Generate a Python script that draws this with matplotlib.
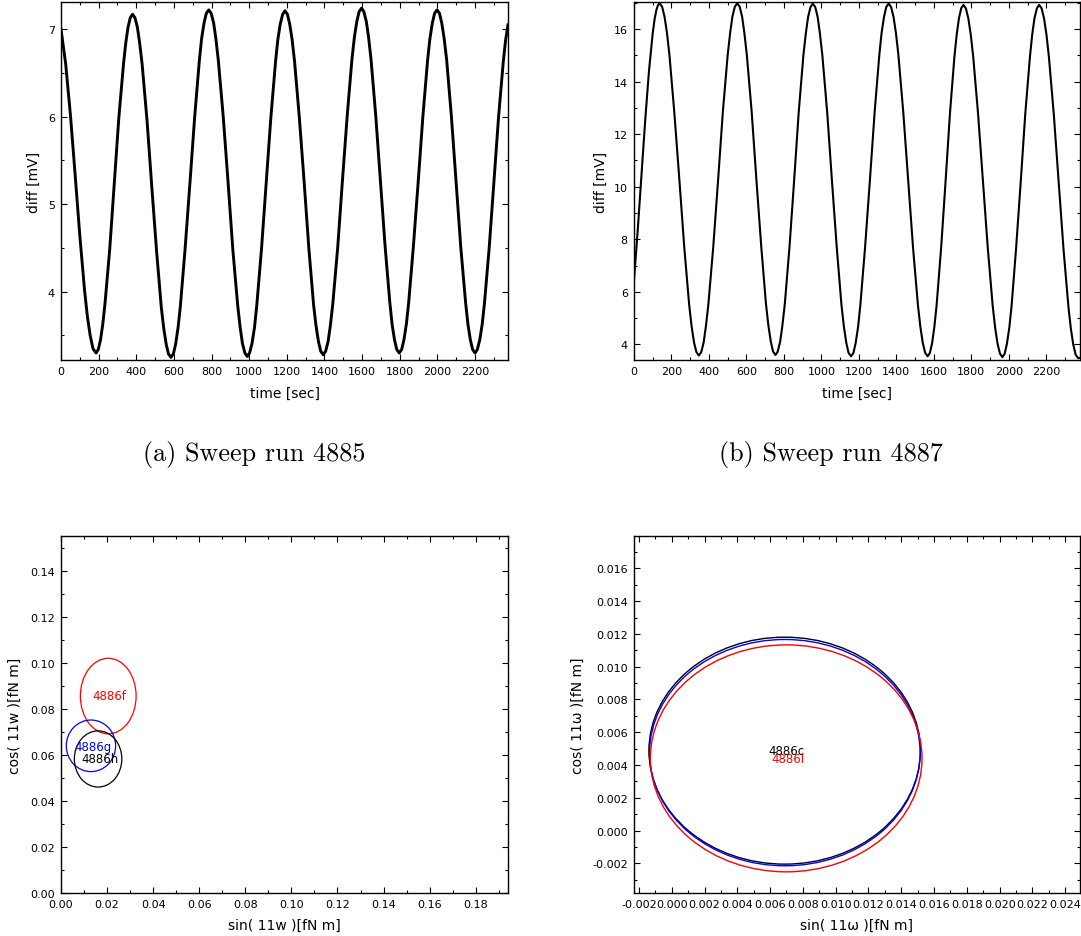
import matplotlib
matplotlib.use('Agg')
from matplotlib import pyplot as plt
from matplotlib.patches import Ellipse
from matplotlib.ticker import MultipleLocator

plt.rcParams['font.family'] = ['DejaVu Sans']
plt.rcParams['axes.unicode_minus'] = False

# (a) sweep run 4885
time_4885 = [0, 25, 50, 75, 100, 125, 140, 155, 170,
             186, 198, 210, 222, 234, 259, 283, 307, 332, 344, 356, 368,
             380, 393, 406, 418, 431, 457, 482, 508, 533, 546, 559, 571,
             584, 597, 609, 622, 634, 659, 685, 710, 735, 747, 760, 772,
             785, 798, 811, 823, 836, 862, 888, 913, 939, 952, 964, 977,
             990, 1002, 1015, 1028, 1040, 1065, 1090, 1115, 1140, 1152, 1165, 1178,
             1190, 1203, 1215, 1228, 1241, 1266, 1292, 1317, 1342, 1355, 1368, 1380,
             1393, 1406, 1419, 1431, 1444, 1470, 1495, 1521, 1546, 1559, 1572, 1584,
             1597, 1609, 1622, 1634, 1647, 1672, 1697, 1722, 1747, 1759, 1772, 1784,
             1797, 1810, 1822, 1835, 1847, 1872, 1898, 1923, 1948, 1960, 1973, 1985,
             1998, 2011, 2023, 2036, 2049, 2074, 2099, 2124, 2150, 2162, 2175, 2187,
             2200, 2212, 2225, 2238, 2250, 2275, 2300, 2325, 2350, 2362, 2375]
diff_4885 = [7.00, 6.60, 6.02, 5.34, 4.64, 4.02, 3.72, 3.50, 3.35,
             3.30, 3.34, 3.45, 3.63, 3.87, 4.49, 5.24, 5.98, 6.60, 6.84, 7.02, 7.13,
             7.17, 7.13, 7.02, 6.84, 6.60, 5.96, 5.21, 4.46, 3.82, 3.58, 3.40, 3.29,
             3.25, 3.29, 3.40, 3.59, 3.83, 4.48, 5.24, 5.99, 6.64, 6.89, 7.07, 7.18,
             7.22, 7.18, 7.07, 6.89, 6.64, 6.00, 5.24, 4.48, 3.84, 3.59, 3.41, 3.30,
             3.26, 3.30, 3.41, 3.59, 3.84, 4.48, 5.24, 5.99, 6.63, 6.88, 7.06, 7.17,
             7.21, 7.17, 7.06, 6.88, 6.63, 6.00, 5.25, 4.49, 3.85, 3.61, 3.43, 3.32,
             3.28, 3.32, 3.43, 3.61, 3.86, 4.50, 5.26, 6.02, 6.66, 6.91, 7.09, 7.20,
             7.24, 7.20, 7.09, 6.91, 6.66, 6.02, 5.27, 4.52, 3.88, 3.63, 3.45, 3.34,
             3.30, 3.34, 3.45, 3.63, 3.87, 4.51, 5.26, 6.01, 6.65, 6.89, 7.07, 7.18,
             7.22, 7.18, 7.07, 6.89, 6.65, 6.01, 5.26, 4.51, 3.87, 3.63, 3.45, 3.34,
             3.30, 3.34, 3.45, 3.63, 3.87, 4.50, 5.25, 6.00, 6.63, 6.87, 7.05]

# (b) sweep run 4887
time_4887 = [0, 20, 40, 60, 80, 100, 110, 120, 128,
             137, 150, 163, 176, 189, 215, 242, 268, 294, 307, 320, 333,
             346, 359, 372, 384, 397, 423, 449, 474, 500, 513, 525, 538,
             551, 564, 577, 589, 602, 628, 653, 679, 704, 717, 730, 742,
             755, 767, 780, 792, 805, 830, 855, 879, 904, 917, 929, 942,
             954, 967, 980, 992, 1005, 1031, 1056, 1082, 1107, 1120, 1133, 1145,
             1158, 1171, 1183, 1196, 1208, 1233, 1259, 1284, 1309, 1321, 1334, 1346,
             1359, 1372, 1385, 1398, 1411, 1437, 1463, 1489, 1515, 1528, 1541, 1554,
             1567, 1579, 1591, 1603, 1615, 1639, 1663, 1686, 1710, 1722, 1734, 1746,
             1758, 1771, 1784, 1797, 1810, 1836, 1862, 1888, 1914, 1927, 1940, 1953,
             1966, 1978, 1990, 2003, 2015, 2039, 2064, 2088, 2113, 2125, 2137, 2150,
             2162, 2175, 2188, 2201, 2214, 2240, 2266, 2292, 2318, 2331, 2344, 2357,
             2370, 2380]
diff_4887 = [6.45, 8.36, 10.46, 12.55, 14.41, 15.85, 16.38, 16.74, 16.91,
             16.98, 16.85, 16.47, 15.85, 15.02, 12.84, 10.28, 7.72, 5.54, 4.71, 4.09, 3.71,
             3.58, 3.71, 4.09, 4.71, 5.54, 7.72, 10.28, 12.84, 15.02, 15.85, 16.47, 16.85,
             16.98, 16.85, 16.47, 15.85, 15.02, 12.85, 10.29, 7.73, 5.56, 4.73, 4.11, 3.73,
             3.60, 3.73, 4.11, 4.73, 5.56, 7.73, 10.29, 12.84, 15.01, 15.84, 16.46, 16.84,
             16.97, 16.84, 16.46, 15.84, 15.01, 12.83, 10.26, 7.69, 5.51, 4.68, 4.06, 3.68,
             3.55, 3.68, 4.06, 4.68, 5.51, 7.69, 10.26, 12.83, 15.01, 15.84, 16.46, 16.84,
             16.97, 16.84, 16.46, 15.84, 15.01, 12.83, 10.26, 7.69, 5.51, 4.68, 4.06, 3.68,
             3.55, 3.68, 4.06, 4.68, 5.51, 7.68, 10.24, 12.79, 14.96, 15.79, 16.41, 16.79,
             16.92, 16.79, 16.41, 15.79, 14.96, 12.78, 10.22, 7.66, 5.48, 4.65, 4.03, 3.65,
             3.52, 3.65, 4.03, 4.65, 5.48, 7.66, 10.22, 12.78, 14.96, 15.79, 16.41, 16.79,
             16.92, 16.79, 16.41, 15.79, 14.95, 12.77, 10.20, 7.63, 5.45, 4.61, 4.00, 3.61,
             3.48, 3.49]

# fitted sin/cos ellipses, run 4886 (f, g, h)
runs_left = ['4886f', '4886g', '4886h']
colors_left = ['red', 'blue', 'black']
x0_left = [0.0205, 0.0130, 0.0161]
y0_left = [0.0855, 0.0639, 0.0582]
w_left = [0.0242, 0.0214, 0.0206]
h_left = [0.0328, 0.0224, 0.0244]
label_x_left = [0.0211, 0.0139, 0.0168]
label_y_left = [0.0857, 0.0636, 0.0582]

# run 4886 (c, d, l)
runs_right = ['4886c', '', '4886l']
colors_right = ['black', 'blue', 'red']
x0_right = [0.00689, 0.00690, 0.00698]
y0_right = [0.00488, 0.00476, 0.00441]
w_right = [0.01656, 0.01650, 0.01657]
h_right = [0.01384, 0.01380, 0.01384]
label_x_right = [0.00702, 0.00702, 0.00707]
label_y_right = [0.00491, 0.00491, 0.00440]

W, H = 1081, 937
fig = plt.figure(figsize=(W / 100, H / 100), dpi=100)


def box(left, top, right, bottom):
    return [left / W, 1 - bottom / H, (right - left) / W, (bottom - top) / H]


def style(ax, xmaj, xmin, ymaj, ymin):
    ax.xaxis.set_major_locator(MultipleLocator(xmaj))
    ax.xaxis.set_minor_locator(MultipleLocator(xmin))
    ax.yaxis.set_major_locator(MultipleLocator(ymaj))
    ax.yaxis.set_minor_locator(MultipleLocator(ymin))
    ax.tick_params(which='both', direction='in', top=True, right=True,
                   labelsize=8, pad=4.5, width=0.8)
    ax.tick_params(which='major', length=4.5)
    ax.tick_params(which='minor', length=2.5)
    for s in ax.spines.values():
        s.set_linewidth(1.0)


ax1 = fig.add_axes(box(61, 3, 508, 361))
ax1.plot(time_4885, diff_4885, color='black', lw=2.1)
ax1.set_xlim(0, 2375)
ax1.set_ylim(3.22, 7.31)
style(ax1, 200, 100, 1, 0.5)
ax1.set_xlabel('time [sec]', fontsize=10, labelpad=7)
ax1.set_ylabel('diff [mV]', fontsize=10, labelpad=5)

ax2 = fig.add_axes(box(634, 3, 1080, 361))
ax2.plot(time_4887, diff_4887, color='black', lw=1.5)
ax2.set_xlim(0, 2380)
ax2.set_ylim(3.41, 17.03)
style(ax2, 200, 100, 2, 1)
ax2.set_xlabel('time [sec]', fontsize=10, labelpad=7)
ax2.set_ylabel('diff [mV]', fontsize=10, labelpad=4)

ax3 = fig.add_axes(box(61, 537, 508, 894))
for i in range(len(runs_left)):
    ax3.add_patch(Ellipse((x0_left[i], y0_left[i]), w_left[i], h_left[i],
                          fill=False, edgecolor=colors_left[i], lw=0.9))
    ax3.text(label_x_left[i], label_y_left[i], runs_left[i], color=colors_left[i],
             fontsize=8.5, ha='center', va='center')
ax3.set_xlim(0, 0.194)
ax3.set_ylim(0, 0.155)
style(ax3, 0.02, 0.01, 0.02, 0.01)
ax3.xaxis.set_major_formatter('{x:.2f}')
ax3.yaxis.set_major_formatter('{x:.2f}')
ax3.set_xlabel('sin( 11w )[fN m]', fontsize=10, labelpad=6)
ax3.set_ylabel('cos( 11w )[fN m]', fontsize=10, labelpad=6)

ax4 = fig.add_axes(box(634, 537, 1080, 894))
for i in range(len(runs_right)):
    ax4.add_patch(Ellipse((x0_right[i], y0_right[i]), w_right[i], h_right[i],
                          fill=False, edgecolor=colors_right[i], lw=1.0))
    if runs_right[i]:
        ax4.text(label_x_right[i], label_y_right[i], runs_right[i], color=colors_right[i],
                 fontsize=8.5, ha='center', va='center')
ax4.set_xlim(-0.0023, 0.0249)
ax4.set_ylim(-0.0038, 0.01797)
style(ax4, 0.002, 0.001, 0.002, 0.001)
ax4.xaxis.set_major_formatter('{x:.3f}')
ax4.yaxis.set_major_formatter('{x:.3f}')
ax4.set_xlabel('sin( 11\u03c9 )[fN m]', fontsize=10, labelpad=6)
ax4.set_ylabel('cos( 11\u03c9 )[fN m]', fontsize=10, labelpad=5)

fig.text(254 / W, 1 - 455 / H, '(a) Sweep run 4885', family='cmr10',
         fontsize=18.8, ha='center', va='center')
fig.text(831 / W, 1 - 455 / H, '(b) Sweep run 4887', family='cmr10',
         fontsize=18.8, ha='center', va='center')

fig.savefig('out.png', dpi=100)
